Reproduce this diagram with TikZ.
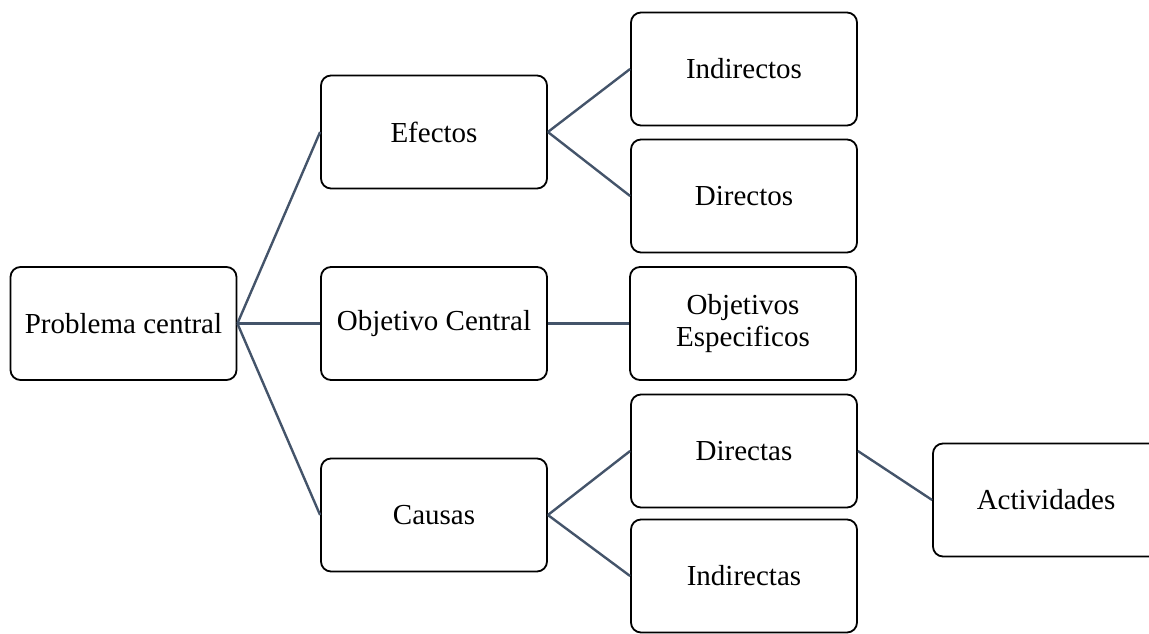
\documentclass[tikz,border=0pt]{standalone}
\usepackage{fontspec}
\setmainfont{Liberation Serif}
\usepackage{tikz}
\usepackage{xcolor}
\definecolor{linkgray}{HTML}{44546A}

\begin{document}
\begin{tikzpicture}[x=1pt,y=-1pt]
\tikzstyle{every node}+=[inner sep=0pt]
\tikzstyle{box}=[draw=black, line width=1.8pt, rounded corners=10pt, minimum width=226pt, minimum height=113pt, align=center, font=\fontsize{29}{32}\selectfont]
\tikzstyle{link}=[draw=linkgray, line width=2.4pt]
\clip (0,0) rectangle (1149,633);
\node [box] (prob) at (123.5,323.5) {Problema central};
\node [box] (efec) at (434,132) {Efectos};
\node [box] (obj) at (434,323.5) {Objetivo Central};
\node [box] (caus) at (434,515) {Causas};
\node [box] (indir) at (744,69) {Indirectos};
\node [box] (dir) at (744,196) {Directos};
\node [box] (objesp) at (743,323.5) {Objetivos\\Especificos};
\node [box] (dirc) at (744,451) {Directas};
\node [box] (indirc) at (744,576) {Indirectas};
\node [box] (act) at (1046,500) {Actividades};
\draw [link] (prob.east) -- (efec.west);
\draw [link] (prob.east) -- (obj.west);
\draw [link] (prob.east) -- (caus.west);
\draw [link] (efec.east) -- (indir.west);
\draw [link] (efec.east) -- (dir.west);
\draw [link] (obj.east) -- (objesp.west);
\draw [link] (caus.east) -- (dirc.west);
\draw [link] (caus.east) -- (indirc.west);
\draw [link] (dirc.east) -- (act.west);
\end{tikzpicture}
\end{document}
